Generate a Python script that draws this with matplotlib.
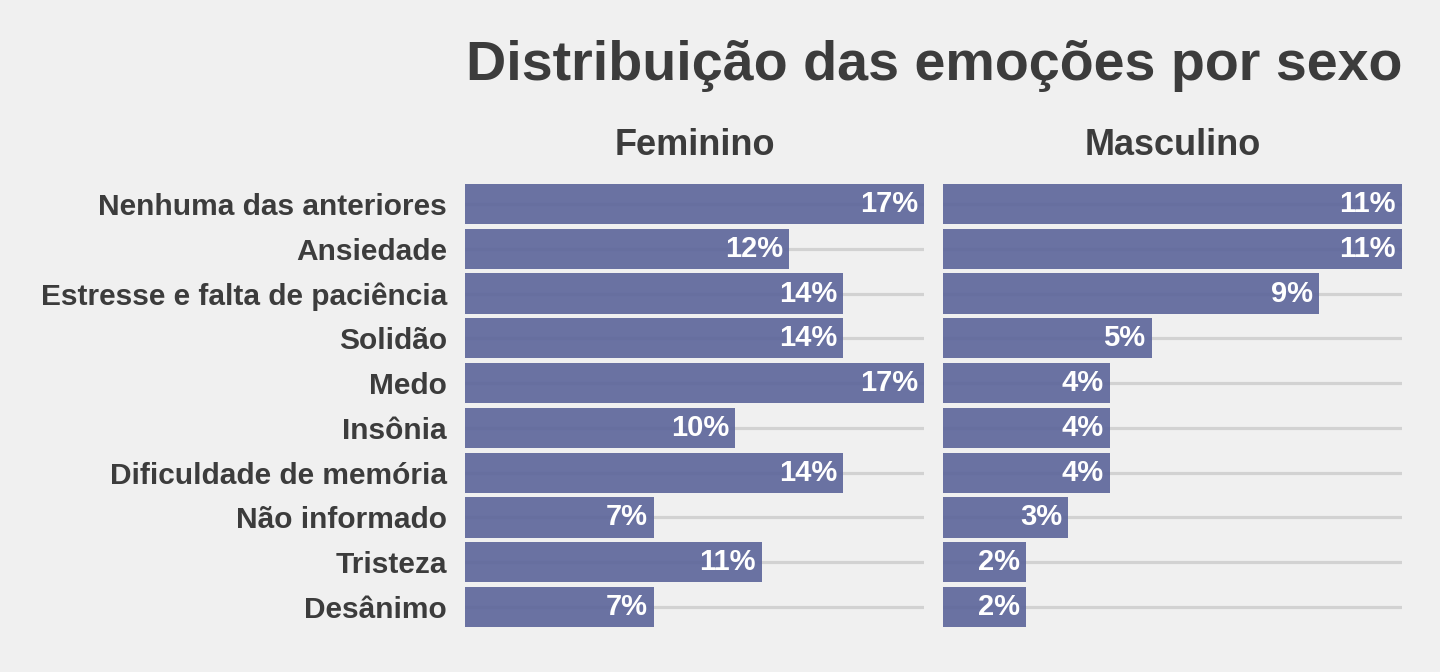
import matplotlib
matplotlib.use("Agg")
import matplotlib.pyplot as plt

categories = ["Nenhuma das anteriores", "Ansiedade", "Estresse e falta de paciência",
              "Solidão", "Medo", "Insônia", "Dificuldade de memória",
              "Não informado", "Tristeza", "Desânimo"]
feminino = [17, 12, 14, 14, 17, 10, 14, 7, 11, 7]
masculino = [11, 11, 9, 5, 4, 4, 4, 3, 2, 2]
panels = ["Feminino", "Masculino"]
title = "Distribuição das emoções por sexo"

BG = "#F0F0F0"
TXT = "#3C3C3C"
BAR = "#5B649A"
GRID = "#D2D2D2"
FONT = ["Liberation Sans", "DejaVu Sans"]

W, H = 1440, 672
fig = plt.figure(figsize=(W / 100, H / 100), dpi=100, facecolor=BG)

top_px, bot_px = 177.1, 633.9
ax_bottom = 1 - bot_px / H
ax_height = (bot_px - top_px) / H
lefts = [465, 943]
width_px = 459

ypos = list(range(len(categories)))
for i, (name, vals) in enumerate(zip(panels, [feminino, masculino])):
    ax = fig.add_axes([lefts[i] / W, ax_bottom, width_px / W, ax_height])
    ax.set_facecolor(BG)
    vmax = max(vals)
    ax.set_xlim(0, vmax)
    ax.set_ylim(len(categories) - 0.4, -0.6)
    for y in ypos:
        ax.axhline(y, color=GRID, lw=2.3, zorder=1)
    ax.barh(ypos, vals, height=0.9, color=BAR, alpha=0.9, zorder=2)
    for y, v in zip(ypos, vals):
        ax.annotate(f"{v}%", xy=(v, y), xytext=(-6, 0), textcoords="offset pixels",
                    ha="right", va="center", color="white", fontsize=21,
                    fontweight="bold", family=FONT, zorder=3)
    for s in ax.spines.values():
        s.set_visible(False)
    ax.set_xticks([])
    ax.tick_params(axis="y", length=0, pad=13)
    if i == 0:
        ax.set_yticks(ypos)
        ax.set_yticklabels(categories, fontsize=21.5, fontweight="bold",
                           color=TXT, family=FONT)
    else:
        ax.set_yticks([])
    cx = (lefts[i] + width_px / 2) / W
    fig.text(cx, 1 - 155 / H, name, ha="center", va="baseline", fontsize=26,
             fontweight="bold", color=TXT, family=FONT)

fig.text(466 / W, 1 - 80 / H, title, ha="left", va="baseline", fontsize=40.1,
         fontweight="bold", color=TXT, family=FONT)

fig.savefig("out.png", dpi=100, facecolor=BG)
